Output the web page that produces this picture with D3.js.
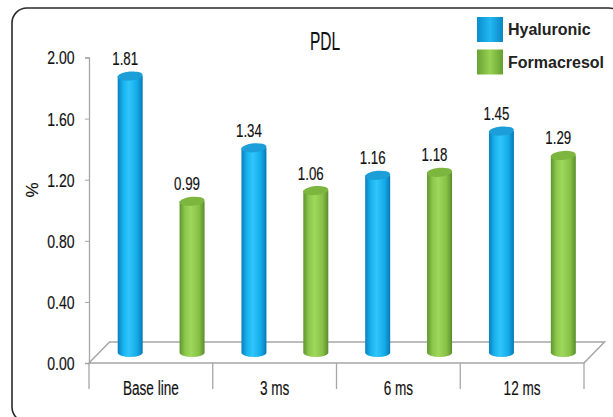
<!DOCTYPE html>
<html><head><meta charset="utf-8">
<script src="https://cdn.jsdelivr.net/npm/d3@7"></script>
<style>
html,body{margin:0;padding:0;background:#fff;}
text{font-family:"Liberation Sans",Arial,sans-serif;}
.heavy{stroke:#111;stroke-width:0.18px;paint-order:stroke;}
</style></head>
<body><svg id="c" width="613" height="417"></svg>
<script>
const categories = ["Base line", "3 ms", "6 ms", "12 ms"];
const seriesNames = ["Hyaluronic", "Formacresol"];
const hyaluronic = [1.81, 1.34, 1.16, 1.45];
const formacresol = [0.99, 1.06, 1.18, 1.29];
const yTicks = [0, 0.4, 0.8, 1.2, 1.6, 2.0];
const title = "PDL";
const yLabel = "%";

const seriesValues = [hyaluronic, formacresol];
const svg = d3.select("#c");
const defs = svg.append("defs");

const palettes = {
  Hyaluronic: {stops:["#0a7fbe","#18b2ee","#30c6fb","#14aae8","#0878b6"], top:"#1c9ed9", sq:["#0a8ccc","#22b8f2","#0a86c4"]},
  Formacresol: {stops:["#5e9430","#8cc84a","#9fd85c","#86c044","#5a8c2c"], top:"#7db63e", sq:["#6aa234","#96d252","#66a030"]}
};
seriesNames.forEach((s,i)=>{
  const g = defs.append("linearGradient").attr("id","g"+i).attr("x1","0").attr("x2","1").attr("y1","0").attr("y2","0");
  const offs=[0,0.22,0.45,0.78,1];
  palettes[s].stops.forEach((c,k)=>g.append("stop").attr("offset",offs[k]).attr("stop-color",c));
  const q = defs.append("linearGradient").attr("id","q"+i).attr("x1","0").attr("x2","1").attr("y1","0").attr("y2","0");
  [0,0.5,1].forEach((o,k)=>q.append("stop").attr("offset",o).attr("stop-color",palettes[s].sq[k]));
});

// frame
svg.append("rect").attr("x",12).attr("y",8).attr("width",612).attr("height",414).attr("rx",15)
  .attr("fill","none").attr("stroke","#2a2a2a").attr("stroke-width",1.6);

const x0 = 89, x1 = 584, yBase = 363, yTop = 57.5;
const depthX = 20.5, depthY = -21;
const x = d3.scaleBand().domain(categories).range([x0, x1]);
const xs = d3.scalePoint().domain(seriesNames).range([0, x.bandwidth()]).padding(0.5);
const y = d3.scaleLinear().domain([0, 2]).range([yBase, yTop]);

// floor
const floorPts = [[x0,yBase],[x1,yBase],[x1+depthX,yBase+depthY],[x0+depthX,yBase+depthY]];
svg.append("path").attr("d", d3.line()(floorPts)+"Z").attr("fill","#fff").attr("stroke","#a6a6a6").attr("stroke-width",1.5);

// y axis
const TICK_SX = 0.78;
const yAxis = d3.axisLeft(y).tickValues(yTicks).tickFormat(d3.format(".2f")).tickSize(4);
const ya = svg.append("g").attr("transform",`translate(${x0},0)`).call(yAxis);
ya.select(".domain").attr("stroke","#a6a6a6").attr("stroke-width",1.3);
ya.selectAll(".tick line").attr("stroke","#a6a6a6");
ya.selectAll(".tick text").attr("font-size",18).attr("fill","#111").attr("class","heavy")
  .attr("font-family",'"Liberation Sans",Arial,sans-serif')
  .attr("x",-14.5/TICK_SX).attr("dy","0.36em").attr("transform",`scale(${TICK_SX},1)`);

// x axis
const CAT_SX = 0.68;
const xa = svg.append("g").attr("transform",`translate(0,${yBase})`)
  .call(d3.axisBottom(x).tickSize(0).tickPadding(18));
xa.select(".domain").remove();
xa.selectAll(".tick text").attr("font-size",20).attr("fill","#111").attr("class","heavy")
  .attr("font-family",'"Liberation Sans",Arial,sans-serif')
  .attr("transform",`scale(${CAT_SX},1)`);
const seps = categories.map(c=>x(c)).concat([x1]);
svg.append("g").selectAll("line").data(seps).join("line")
  .attr("x1",d=>d).attr("x2",d=>d).attr("y1",yBase).attr("y2",yBase+26)
  .attr("stroke","#a6a6a6").attr("stroke-width",1.3);

// bars (cylinders)
const bw = 25, rx = bw/2, ry = 4.5;
const bars = [];
categories.forEach((c,ci)=>seriesNames.forEach((s,si)=>{
  bars.push({c, s, si, v: seriesValues[si][ci]});
}));
const bg = svg.append("g");
bars.forEach(b=>{
  const cx = x(b.c) + xs(b.s) + depthX/2;
  const yt = y(b.v) + depthY/2;
  const yb = y(0) + depthY/2;
  const g = bg.append("g");
  g.append("path")
    .attr("d",`M${cx-rx},${yt} L${cx-rx},${yb} A${rx},${ry} 0 0 0 ${cx+rx},${yb} L${cx+rx},${yt} Z`)
    .attr("fill",`url(#g${b.si})`);
  g.append("ellipse").attr("cx",cx).attr("cy",yt).attr("rx",rx).attr("ry",ry)
    .attr("fill",palettes[b.s].top).attr("transform",`rotate(-5,${cx},${yt})`);
  svg.append("text").attr("class","heavy").attr("transform",`translate(${cx-5},${yt-11}) scale(0.74,1)`).attr("text-anchor","middle")
    .attr("font-size",18).attr("fill","#111").text(b.v.toFixed(2));
});

// title
svg.append("text").attr("class","heavy").attr("transform","translate(325,50) scale(0.62,1)").attr("text-anchor","middle")
  .attr("font-size",25).attr("fill","#111").text(title);

// y label
svg.append("text").attr("class","heavy").attr("transform","translate(38,190) rotate(-90)").attr("text-anchor","middle")
  .attr("font-size",17).attr("fill","#111").text(yLabel);

// legend
const lg = svg.append("g");
seriesNames.forEach((s,i)=>{
  const yy = 17 + i*32.5;
  lg.append("rect").attr("x",477).attr("y",yy).attr("width",26).attr("height",25).attr("fill",`url(#q${i})`);
  lg.append("text").attr("x",508).attr("y",yy+18).attr("font-size",16).attr("font-weight","bold")
    .attr("fill","#222").text(s);
});
</script></body></html>
